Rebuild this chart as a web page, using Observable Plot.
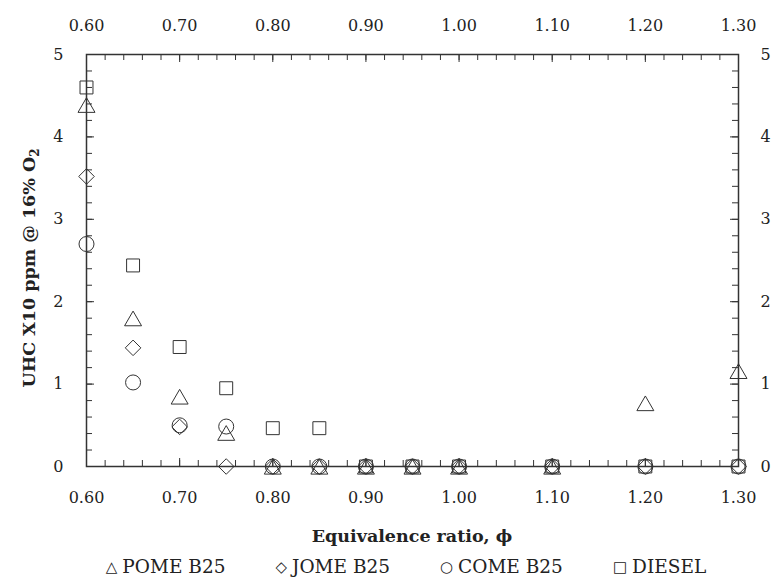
<!DOCTYPE html>
<html><head><meta charset="utf-8">
<script src="https://cdn.jsdelivr.net/npm/d3@7"></script>
<script src="https://cdn.jsdelivr.net/npm/@observablehq/plot@0.6"></script>
<style>
body{margin:0;background:#fff;font-family:'DejaVu Serif',serif;}
#legend{display:flex;justify-content:center;gap:50px;padding-left:41px;font-family:'DejaVu Serif',serif;font-size:18.5px;line-height:24px;margin-top:5px;color:#222;white-space:nowrap;}
.sym{font-family:'DejaVu Sans',sans-serif;font-size:15px;margin-right:5px;position:relative;top:-1px;}
svg text{font-family:'DejaVu Serif',serif;}
</style></head><body>
<div id="chart"></div><div id="legend"></div>
<script>
const phi = [0.60, 0.65, 0.70, 0.75, 0.80, 0.85, 0.90, 0.95, 1.00, 1.10, 1.20, 1.30];
const pome = [4.39, 1.80, 0.85, 0.41, 0, 0, 0, 0, 0, 0, 0.77, 1.16];
const jome = [3.52, 1.44, 0.48, 0, 0, 0, 0, 0, 0, 0, 0, 0];
const come = [2.70, 1.02, 0.50, 0.485, 0, 0, 0, 0, 0, 0, 0, 0];
const diesel = [4.60, 2.44, 1.45, 0.95, 0.465, 0.465, 0, 0, 0, 0, 0, 0];
const seriesNames = ["POME B25", "JOME B25", "COME B25", "DIESEL"];
const seriesGlyphs = ["\u25B3", "\u25C7", "\u25CB", "\u25A1"];
const xTickLabels = [0.60, 0.70, 0.80, 0.90, 1.00, 1.10, 1.20, 1.30];
const yTickLabels = [0, 1, 2, 3, 4, 5];

const xMinor = d3.range(30, 66).map(i => i / 50);
const yMinor = d3.range(0, 26).map(i => i / 5);

const rows = vals => phi.map((x, i) => ({x, y: vals[i]}));
const ink = "#333";
const serif = "'DejaVu Serif', serif";
const W = 771, H = 550, mt = 54, mb = 84, ml = 86, mr = 33;
const ph = H - mt - mb, pw = W - ml - mr;
const minorL = 6, majorL = 8;

const dotStyle = {x: "x", y: "y", fill: "none", stroke: ink, strokeWidth: 1};
const axText = {tickSize: 0, fontSize: 16, fontFamily: serif, label: null};

const svg = Plot.plot({
  width: W, height: H,
  marginTop: mt, marginBottom: mb, marginLeft: ml, marginRight: mr,
  style: {fontFamily: serif, fontSize: "16px", color: "#222", background: "#fff"},
  x: {domain: [0.6, 1.3]},
  y: {domain: [0, 5]},
  marks: [
    // inward ticks
    Plot.ruleX(xMinor, {x: d => d, insetTop: ph - minorL, stroke: ink}),
    Plot.ruleX(xMinor, {x: d => d, insetBottom: ph - minorL, stroke: ink}),
    Plot.ruleX(xTickLabels, {x: d => d, insetTop: ph - majorL, stroke: ink}),
    Plot.ruleX(xTickLabels, {x: d => d, insetBottom: ph - majorL, stroke: ink}),
    Plot.ruleY(yMinor, {y: d => d, insetRight: pw - minorL, stroke: ink}),
    Plot.ruleY(yMinor, {y: d => d, insetLeft: pw - minorL, stroke: ink}),
    Plot.ruleY(yTickLabels, {y: d => d, insetRight: pw - majorL, stroke: ink}),
    Plot.ruleY(yTickLabels, {y: d => d, insetLeft: pw - majorL, stroke: ink}),
    Plot.frame({stroke: ink, strokeWidth: 1.5}),
    // tick labels
    Plot.axisX(xTickLabels, {...axText, anchor: "bottom", tickPadding: 25, tickFormat: d => d.toFixed(2)}),
    Plot.axisX(xTickLabels, {...axText, anchor: "top", tickPadding: 24, tickFormat: d => d.toFixed(2)}),
    Plot.axisY(yTickLabels, {...axText, anchor: "left", tickPadding: 23, tickFormat: d => String(d)}),
    Plot.axisY(yTickLabels, {...axText, anchor: "right", tickPadding: 22, tickFormat: d => String(d)}),
    // data
    Plot.dot(rows(diesel), {...dotStyle, symbol: "square", r: 7.3}),
    Plot.dot(rows(come), {...dotStyle, symbol: "circle", r: 7.5}),
    Plot.dot(rows(jome), {...dotStyle, symbol: "diamond2", r: 7.0}),
    Plot.dot(rows(pome), {...dotStyle, symbol: "triangle", r: 6.3, dy: 2.7})
  ]
});

const s = d3.select(svg);
s.append("text")
  .attr("x", ml + pw / 2).attr("y", 542)
  .attr("text-anchor", "middle")
  .style("font-family", serif)
  .attr("font-weight", "bold").attr("font-size", 17.5)
  .attr("fill", "#222")
  .text("Equivalence ratio, \u03D5");

const yl = s.append("text")
  .attr("transform", "translate(35,268) rotate(-90)")
  .attr("text-anchor", "middle")
  .style("font-family", serif)
  .attr("font-weight", "bold").attr("font-size", 17.5)
  .attr("fill", "#222");
yl.append("tspan").text("UHC X10 ppm @ 16% O");
yl.append("tspan").attr("font-size", 12).attr("dy", 4).text("2");

document.getElementById("chart").appendChild(svg);

const lg = document.getElementById("legend");
seriesNames.forEach((n, i) => {
  const it = document.createElement("span");
  const g = document.createElement("span");
  g.className = "sym"; g.textContent = seriesGlyphs[i];
  it.appendChild(g);
  it.appendChild(document.createTextNode(n));
  lg.appendChild(it);
});
</script>
</body></html>
